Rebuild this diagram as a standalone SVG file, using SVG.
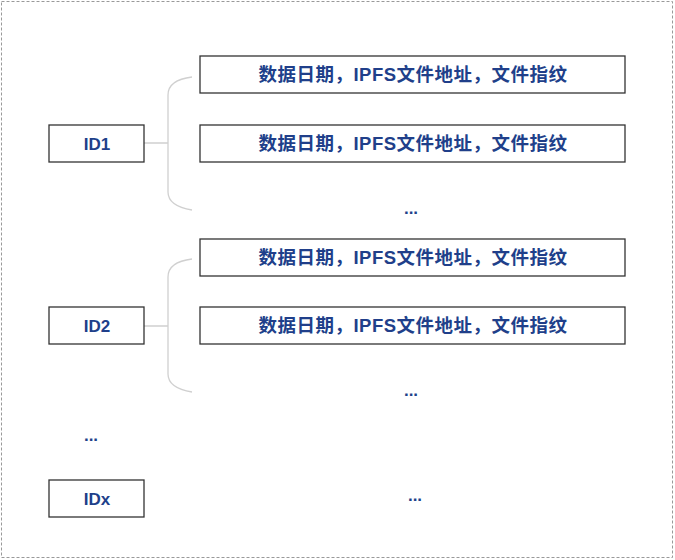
<svg xmlns="http://www.w3.org/2000/svg" width="675" height="560" viewBox="0 0 675 560">
<style>
.b{fill:#fff;stroke:#333;stroke-width:1.3}
.t{font-family:"Liberation Sans","Noto Sans CJK SC",sans-serif;font-size:17px;font-weight:bold;fill:#203f8a;text-anchor:middle}
.w{font-size:18.5px;letter-spacing:0.5px}
.c{fill:none;stroke:#d0d0d0;stroke-width:1.3}
</style>
<rect x="1.5" y="1.5" width="671" height="556" fill="#fff" stroke="#999" stroke-dasharray="3,2"/>
<g id="connectors">
<path class="c" d="M192,77 Q168,80 168,95 V192 Q168,206 192,210 M144,143 H168"/>
<path class="c" d="M192,259 Q168,262 168,277 V374 Q168,388 192,392 M144,326 H168"/>
</g>
<g id="id1"><rect class="b" x="49" y="125" width="95" height="37"/><text class="t" x="97" y="150">ID1</text></g>
<g id="r1"><rect class="b" x="200" y="56" width="425" height="37"/><text class="t w" x="413" y="81">数据日期，IPFS文件地址，文件指纹</text></g>
<g id="r2"><rect class="b" x="200" y="125" width="425" height="37"/><text class="t w" x="413" y="150">数据日期，IPFS文件地址，文件指纹</text></g>
<g id="d1"><text class="t" x="411" y="214">...</text></g>
<g id="id2"><rect class="b" x="49" y="307" width="95" height="37"/><text class="t" x="97" y="332">ID2</text></g>
<g id="r3"><rect class="b" x="200" y="239" width="425" height="37"/><text class="t w" x="413" y="264">数据日期，IPFS文件地址，文件指纹</text></g>
<g id="r4"><rect class="b" x="200" y="307" width="425" height="37"/><text class="t w" x="413" y="332">数据日期，IPFS文件地址，文件指纹</text></g>
<g id="d2"><text class="t" x="411" y="396">...</text></g>
<g id="d3"><text class="t" x="91" y="441">...</text></g>
<g id="idx"><rect class="b" x="49" y="480" width="95" height="37"/><text class="t" x="97" y="505">IDx</text></g>
<g id="d4"><text class="t" x="415" y="501">...</text></g>
</svg>
